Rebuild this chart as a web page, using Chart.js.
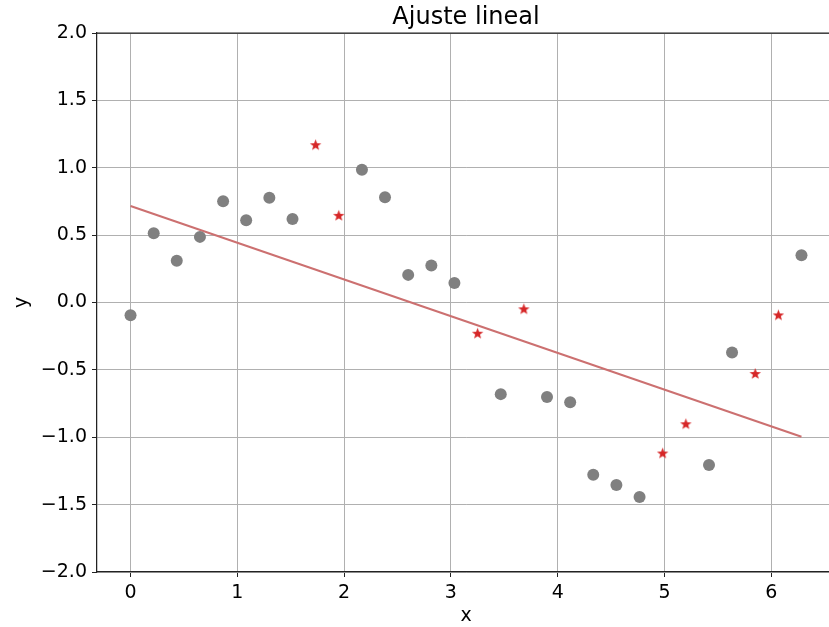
<!DOCTYPE html>
<html>
<head>
<meta charset="utf-8">
<script src="https://cdn.jsdelivr.net/npm/chart.js@4/dist/chart.umd.min.js"></script>
<style>
  html, body { margin: 0; padding: 0; background: #fff; overflow: hidden; }
  #wrap { width: 932px; height: 627px; }
</style>
</head>
<body>
<div id="wrap"><canvas id="myChart"></canvas></div>
<script>
// datos
const xPuntos = [0, 0.217, 0.433, 0.650, 0.867, 1.083, 1.300, 1.517, 2.167, 2.383, 2.600, 2.817, 3.033,
                 3.467, 3.900, 4.117, 4.333, 4.550, 4.767, 5.417, 5.633, 6.283];
const yPuntos = [-0.094, 0.514, 0.309, 0.487, 0.751, 0.610, 0.778, 0.620, 0.986, 0.781, 0.205, 0.274, 0.145,
                 -0.680, -0.702, -0.741, -1.278, -1.354, -1.443, -1.206, -0.371, 0.351];
const xAtipicos = [1.733, 1.950, 3.250, 3.683, 4.983, 5.200, 5.850, 6.067];
const yAtipicos = [1.171, 0.647, -0.228, -0.047, -1.117, -0.900, -0.527, -0.092];
const xAjuste = [0, 6.283];
const yAjuste = [0.716, -0.996];
const xTicks = [0, 1, 2, 3, 4, 5, 6];
const yTicks = [-2.0, -1.5, -1.0, -0.5, 0.0, 0.5, 1.0, 1.5, 2.0];
const titulo = "Ajuste lineal";

const fuente = "'DejaVu Sans', sans-serif";

function pares(xs, ys) {
	let out = [];
	for (let i = 0; i < xs.length; i++) out.push({x: xs[i], y: ys[i]});
	return out;
}

// estrella rellena como pointStyle
function estrella() {
	const c = document.createElement("canvas");
	c.width = 13; c.height = 13;
	const g = c.getContext("2d");
	g.fillStyle = "#d62728";
	g.beginPath();
	for (let i = 0; i < 10; i++) {
		const r = i % 2 == 0 ? 6 : 2.5;
		const a = -Math.PI / 2 + i * Math.PI / 5;
		const px = 6.5 + r * Math.cos(a), py = 7 + r * Math.sin(a);
		if (i == 0) g.moveTo(px, py); else g.lineTo(px, py);
	}
	g.closePath();
	g.fill();
	return c;
}

function menos(v, dec) {
	let s = dec ? v.toFixed(dec) : String(v);
	return s.replace("-", "\u2212");
}

// borde superior y titulo centrado sobre el area del grafico
const marco = {
	id: "marco",
	afterDraw(chart) {
		const a = chart.chartArea, ctx = chart.ctx;
		ctx.save();
		ctx.strokeStyle = "#222";
		ctx.lineWidth = 1.25;
		ctx.beginPath();
		ctx.moveTo(a.left, a.top);
		ctx.lineTo(a.right, a.top);
		ctx.stroke();
		ctx.fillStyle = "#000";
		ctx.font = "24px " + fuente;
		ctx.textAlign = "center";
		ctx.textBaseline = "alphabetic";
		ctx.fillText(titulo, (a.left + a.right) / 2, 24);
		ctx.restore();
	}
};

const config = {
	type: "scatter",
	data: {
		datasets: [
			{
				label: "ajuste",
				type: "line",
				data: pares(xAjuste, yAjuste),
				borderColor: "#cc7070",
				borderWidth: 2,
				pointRadius: 0,
				fill: false,
				order: 3
			},
			{
				label: "datos",
				data: pares(xPuntos, yPuntos),
				backgroundColor: "#808080",
				borderWidth: 0,
				pointRadius: 6,
				order: 2
			},
			{
				label: "atipicos",
				data: pares(xAtipicos, yAtipicos),
				pointStyle: estrella(),
				order: 1
			}
		]
	},
	options: {
		responsive: true,
		maintainAspectRatio: false,
		animation: false,
		layout: { padding: { left: 0, right: 97, top: 33, bottom: 0 } },
		plugins: {
			legend: { display: false },
			tooltip: { enabled: false },
			title: { display: false }
		},
		scales: {
			x: {
				type: "linear",
				min: -0.314,
				max: 6.597,
				afterBuildTicks: s => { s.ticks = xTicks.map(v => ({value: v})); },
				afterFit: s => { s.height = 55; },
				ticks: {
					color: "#000",
					font: { family: fuente, size: 19 },
					padding: 5,
					maxRotation: 0,
					callback: v => menos(v)
				},
				grid: { color: "#b0b0b0", lineWidth: 1, tickLength: 5, tickColor: "#222" },
				border: { color: "#222", width: 1.25 },
				title: {
					display: true,
					text: "x",
					color: "#000",
					font: { family: fuente, size: 19 },
					padding: { top: 0, bottom: 0 }
				}
			},
			y: {
				min: -2,
				max: 2,
				afterBuildTicks: s => { s.ticks = yTicks.map(v => ({value: v})); },
				afterFit: s => { s.width = 97; },
				ticks: {
					color: "#000",
					font: { family: fuente, size: 19 },
					padding: 5,
					callback: v => menos(v, 1)
				},
				grid: { color: "#b0b0b0", lineWidth: 1, tickLength: 5, tickColor: "#222" },
				border: { color: "#222", width: 1.25 },
				title: {
					display: true,
					text: "y",
					color: "#000",
					font: { family: fuente, size: 19 },
					padding: { top: 11, bottom: 11 }
				}
			}
		}
	},
	plugins: [marco]
};

let ctx = document.getElementById("myChart").getContext("2d");
new Chart(ctx, config);
</script>
</body>
</html>
